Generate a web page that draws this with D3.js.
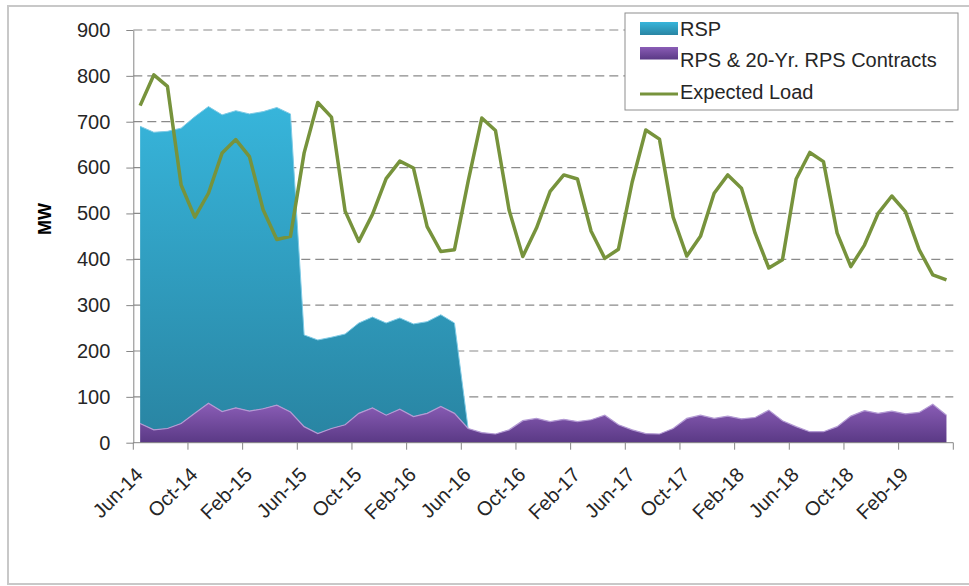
<!DOCTYPE html>
<html><head><meta charset="utf-8">
<script src="https://cdn.jsdelivr.net/npm/d3@7"></script>
<style>body{margin:0;background:#fff;} svg{display:block;font-family:"Liberation Sans",Arial,sans-serif;}</style>
</head><body><svg id="c" width="969" height="586"></svg>
<script>
const months = ["Jun-14","Jul-14","Aug-14","Sep-14","Oct-14","Nov-14","Dec-14","Jan-15","Feb-15","Mar-15","Apr-15","May-15",
"Jun-15","Jul-15","Aug-15","Sep-15","Oct-15","Nov-15","Dec-15","Jan-16","Feb-16","Mar-16","Apr-16","May-16",
"Jun-16","Jul-16","Aug-16","Sep-16","Oct-16","Nov-16","Dec-16","Jan-17","Feb-17","Mar-17","Apr-17","May-17",
"Jun-17","Jul-17","Aug-17","Sep-17","Oct-17","Nov-17","Dec-17","Jan-18","Feb-18","Mar-18","Apr-18","May-18",
"Jun-18","Jul-18","Aug-18","Sep-18","Oct-18","Nov-18","Dec-18","Jan-19","Feb-19","Mar-19","Apr-19","May-19"];
const rsp = [648,649,648,644,647,647,647,648,648,648,649,650,
200,204,199,198,197,198,201,199,202,200,200,197,
0,0,0,0,0,0,0,0,0,0,0,0,
0,0,0,0,0,0,0,0,0,0,0,0,
0,0,0,0,0,0,0,0,0,0,0,0];
const rps = [42,28,31,42,64,86,68,76,69,74,82,67,
35,20,31,39,64,76,60,73,57,64,79,64,
31,22,19,28,48,53,46,51,46,50,60,39,
28,20,19,31,53,60,53,58,52,55,71,48,
35,24,24,35,58,70,64,69,63,66,84,60];
const load = [735,802,777,562,492,544,632,661,624,508,443,450,
632,742,710,505,439,498,576,614,599,471,417,421,
570,708,681,507,406,468,548,584,575,461,402,422,
568,682,662,492,407,450,544,584,555,457,381,399,
575,633,613,457,384,431,500,538,504,421,366,355];
const yTicks = [0,100,200,300,400,500,600,700,800,900];
const xTickLabels = ["Jun-14","Oct-14","Feb-15","Jun-15","Oct-15","Feb-16","Jun-16","Oct-16","Feb-17","Jun-17","Oct-17","Feb-18","Jun-18","Oct-18","Feb-19"];
const seriesNames = ["RSP","RPS & 20-Yr. RPS Contracts","Expected Load"];

const svg = d3.select("#c");
const x = d3.scaleBand().domain(months).range([133.3, 953.3]).padding(0);
const y = d3.scaleLinear().domain([0, 900]).range([442.7, 30]);
const cx = m => x(m) + x.bandwidth() / 2;

// frame
svg.append("rect").attr("x", 8).attr("y", 6).attr("width", 975).attr("height", 578)
  .attr("fill", "#fff").attr("stroke", "#c8c8c8").attr("stroke-width", 2);

const defs = svg.append("defs");
function grad(id, c0, c1) {
  const g = defs.append("linearGradient").attr("id", id).attr("x1", 0).attr("y1", 0).attr("x2", 0).attr("y2", 1);
  g.append("stop").attr("offset", "0%").attr("stop-color", c0);
  g.append("stop").attr("offset", "100%").attr("stop-color", c1);
}
grad("gTeal", "#37b5db", "#2985a3");
grad("gPurple", "#8a5db6", "#5a3985");

// gridlines
svg.append("g").selectAll("line").data(yTicks.filter(v => v > 0)).join("line")
  .attr("x1", 133.3).attr("x2", 953.3).attr("y1", d => y(d)).attr("y2", d => y(d))
  .attr("stroke", "#8a8a8a").attr("stroke-width", 1.2).attr("stroke-dasharray", "9,5");

// stacked areas
const rows = months.map((m, i) => ({ m, rps: rps[i], rsp: rsp[i] }));
const stack = d3.stack().keys(["rps", "rsp"])(rows);
const area = d3.area().x(d => cx(d.data.m)).y0(d => y(d[0])).y1(d => y(d[1]));
const topLine = d3.line().x(d => cx(d.data.m)).y(d => y(d[1]));
svg.append("path").datum(stack[1].slice(0, 25)).attr("d", area).attr("fill", "url(#gTeal)");
svg.append("path").datum(stack[1].slice(0, 25)).attr("d", topLine).attr("fill", "none").attr("stroke", "#7fcbe6").attr("stroke-width", 1);
svg.append("path").datum(stack[0]).attr("d", area).attr("fill", "url(#gPurple)");
svg.append("path").datum(stack[0]).attr("d", topLine).attr("fill", "none").attr("stroke", "#b39ad3").attr("stroke-width", 1.2);

// load line
svg.append("path").datum(load)
  .attr("d", d3.line().x((d, i) => cx(months[i])).y(d => y(d)))
  .attr("fill", "none").attr("stroke", "#77933c").attr("stroke-width", 3.5).attr("stroke-linejoin", "round");

// y axis
const ya = svg.append("g").attr("transform", "translate(133.3,0)")
  .call(d3.axisLeft(y).tickValues(yTicks).tickSize(7).tickPadding(16).tickSizeOuter(0));
ya.select(".domain").attr("stroke", "#868686");
ya.selectAll(".tick line").attr("stroke", "#868686");
ya.selectAll("text").attr("font-size", 20).attr("fill", "#262626").attr("font-family", "Liberation Sans, Arial, sans-serif");

// x axis
const xg = svg.append("g");
xg.append("line").attr("x1", 133.3).attr("x2", 953.3).attr("y1", y(0)).attr("y2", y(0)).attr("stroke", "#868686");
const tickPos = months.filter((d, i) => i % 4 === 0).map(m => x(m)).concat([x.range()[1]]);
xg.selectAll("line.t").data(tickPos).join("line").attr("class", "t")
  .attr("x1", d => d).attr("x2", d => d).attr("y1", y(0)).attr("y2", y(0) + 7).attr("stroke", "#868686");
xg.selectAll("text").data(xTickLabels).join("text")
  .attr("transform", d => `translate(${cx(d) + 4},476) rotate(-45)`)
  .attr("text-anchor", "end").attr("font-size", 20).attr("fill", "#262626").text(d => d);

// y title
svg.append("text").attr("transform", "translate(51,219) rotate(-90)").attr("text-anchor", "middle")
  .attr("font-size", 18).attr("font-weight", "bold").attr("fill", "#000").text("MW");

// legend
const lg = svg.append("g");
lg.append("rect").attr("x", 625).attr("y", 13).attr("width", 333).attr("height", 97)
  .attr("fill", "#fff").attr("stroke", "#8e8e8e").attr("stroke-width", 1);
lg.append("rect").attr("x", 640).attr("y", 22).attr("width", 38).attr("height", 13).attr("fill", "url(#gTeal)");
lg.append("rect").attr("x", 640).attr("y", 47).attr("width", 38).attr("height", 12.5).attr("fill", "url(#gPurple)");
lg.append("line").attr("x1", 640).attr("x2", 678).attr("y1", 94).attr("y2", 94).attr("stroke", "#77933c").attr("stroke-width", 3);
const baselines = [36, 67, 99];
lg.selectAll("text").data(seriesNames).join("text")
  .attr("x", 680).attr("y", (d, i) => baselines[i]).attr("font-size", 20).attr("fill", "#262626").text(d => d);
</script></body></html>
